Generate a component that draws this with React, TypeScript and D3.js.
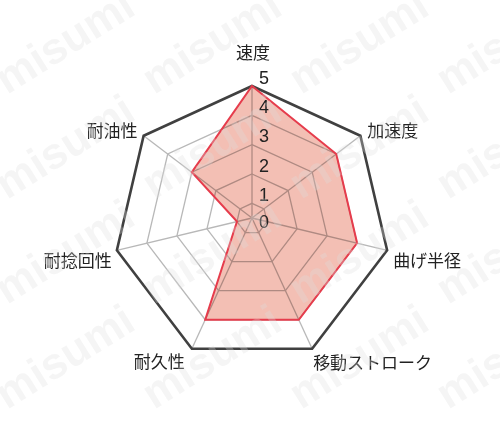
import { useEffect, useRef } from 'react';
import * as d3 from 'd3';

const axes = ['速度', '加速度', '曲げ半径', '移動ストローク', '耐久性', '耐捻回性', '耐油性'];
const values = [5, 4, 4, 4, 4, 1, 3];
const tickValues = [0, 1, 2, 3, 4, 5];
const watermarkCols = [7, 154, 301, 448];
const watermarkRows = [95, 200, 305, 410];

// label placement relative to outer vertex
const labelLayout = [
  { anchor: 'middle', dx: 1, dy: -27 },
  { anchor: 'start', dx: 7, dy: 1 },
  { anchor: 'start', dx: 6, dy: 17 },
  { anchor: 'start', dx: 1, dy: 20 },
  { anchor: 'end', dx: -7, dy: 19 },
  { anchor: 'end', dx: -5, dy: 17 },
  { anchor: 'end', dx: -6, dy: 1 },
];

const W = 500;
const H = 432;

const App = () => {
  const ref = useRef<SVGSVGElement | null>(null);

  useEffect(() => {
    const svg = d3.select(ref.current);
    svg.selectAll('*').remove();

    const cx = 252, cy = 218, R = 132;
    const kx = 1.05, kyLow = 1.1;
    const r = d3.scaleLinear().domain([0.5, 5]).range([0, R]).clamp(true);
    const n = axes.length;
    const ang = (i: number) => (i * 2 * Math.PI) / n;
    const pt = (i: number, rad: number): [number, number] => {
      const a = ang(i);
      const c = Math.cos(a);
      return [cx + rad * Math.sin(a) * kx, cy - rad * c * (c < 0 ? kyLow : 1)];
    };
    const ring = (v: number) => d3.range(n).map(i => pt(i, r(v)));
    const line = d3.line().curve(d3.curveLinearClosed);

    svg.append('rect').attr('width', W).attr('height', H).attr('fill', '#fff');

    const g = svg.append('g');

    // inner rings
    g.selectAll('.ring')
      .data([1, 2, 3, 4])
      .enter().append('path')
      .attr('d', d => line(ring(d)))
      .attr('fill', 'none')
      .attr('stroke', '#b8b8b8')
      .attr('stroke-width', 1.3);

    // spokes
    g.selectAll('.spoke')
      .data(axes)
      .enter().append('line')
      .attr('x1', cx).attr('y1', cy)
      .attr('x2', (_, i) => pt(i, R)[0])
      .attr('y2', (_, i) => pt(i, R)[1])
      .attr('stroke', '#b8b8b8')
      .attr('stroke-width', 1.3);

    // data fill
    const dataPts = values.map((v, i) => pt(i, r(v)));
    g.append('path')
      .attr('d', line(dataPts))
      .attr('fill', '#f3bfb4')
      .style('mix-blend-mode', 'multiply');

    // outer ring
    g.append('path')
      .attr('d', line(ring(5)))
      .attr('fill', 'none')
      .attr('stroke', '#404040')
      .attr('stroke-width', 2.6)
      .attr('stroke-linejoin', 'miter');

    // data outline
    g.append('path')
      .attr('d', line(dataPts))
      .attr('fill', 'none')
      .attr('stroke', '#e63c4c')
      .attr('stroke-width', 2);

    // tick labels
    g.selectAll('.tick')
      .data(tickValues)
      .enter().append('text')
      .attr('x', cx + 12)
      .attr('y', d => (d === 0 ? cy + 10 : cy - r(d) - 2.5))
      .attr('text-anchor', 'middle')
      .attr('font-family', 'Liberation Sans, Arial, sans-serif')
      .attr('font-size', 18)
      .attr('fill', '#222')
      .text(d => d);

    // axis labels
    g.selectAll('.axis-label')
      .data(axes)
      .enter().append('text')
      .attr('x', (_, i) => pt(i, R)[0] + labelLayout[i].dx)
      .attr('y', (_, i) => pt(i, R)[1] + labelLayout[i].dy)
      .attr('text-anchor', (_, i) => labelLayout[i].anchor)
      .attr('font-family', 'Noto Sans CJK JP, sans-serif')
      .attr('font-size', 17)
      .attr('fill', '#222')
      .text(d => d);

    // watermark
    const wm = svg.append('g').attr('opacity', 0.3);
    watermarkRows.forEach(y => {
      watermarkCols.forEach(x => {
        wm.append('text')
          .attr('transform', `translate(${x},${y}) rotate(-32)`)
          .attr('font-family', 'Liberation Sans, Arial, sans-serif')
          .attr('font-weight', 'bold')
          .attr('font-size', 44)
          .attr('fill', '#dedede')
          .text('misumi');
      });
    });
  }, []);

  return (
    <svg
      ref={ref}
      width={W}
      height={H}
      style={{ position: 'absolute', left: 0, top: 0 }}
    ></svg>
  );
};

export default App;
